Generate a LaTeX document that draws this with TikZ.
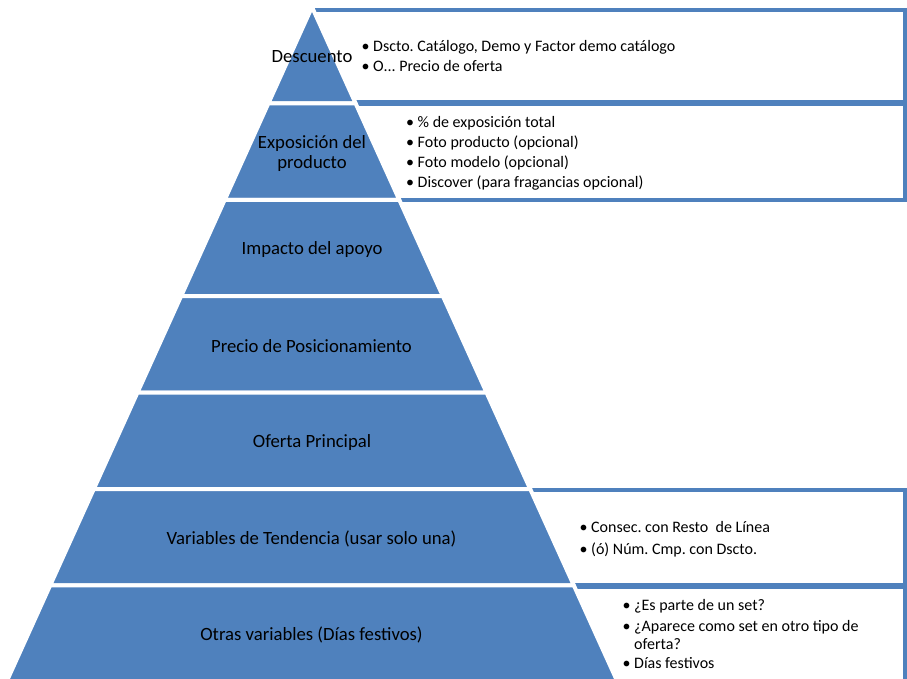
\documentclass[tikz,border=0pt]{standalone}
\usepackage{fontspec}
\setmainfont{Carlito}
\definecolor{pyrblue}{HTML}{4F81BD}
\tikzset{
  layer/.style={fill=pyrblue, draw=white, line width=4pt, line join=round},
  listbox/.style={fill=white, draw=pyrblue, line width=4pt},
  lbl/.style={inner sep=0pt, font=\fontsize{18.7}{20.5}\selectfont, align=center, text=black},
  item/.style={inner sep=0pt, anchor=mid west, font=\fontsize{16}{19.5}\selectfont, text=black},
}
\newcommand{\bul}{\makebox[11.5pt][l]{•}}
\newcommand{\nobul}{\makebox[11.5pt][l]{}}
\begin{document}
\frenchspacing
\begin{tikzpicture}[x=1pt,y=-1pt]
\useasboundingbox (0,0) rectangle (907,679);
\clip (0,0) rectangle (907,679);
% list boxes (behind the pyramid)
\path[listbox] (311,10) rectangle (904.5,102.5);
\path[listbox] (311,104.5) rectangle (904.5,200);
\path[listbox] (450,489.5) rectangle (904.5,584.5);
\path[listbox] (450,586.5) rectangle (904.5,720);
% pyramid layers
\foreach \i in {0,...,6}{
  \pgfmathsetmacro\ya{7+96.4*\i}
  \pgfmathsetmacro\yb{7+96.4*(\i+1)}
  \pgfmathsetmacro\wa{0.4527*96.4*\i}
  \pgfmathsetmacro\wb{0.4527*96.4*(\i+1)}
  \path[layer] (312-\wa,\ya) -- (312+\wa,\ya) -- (312+\wb,\yb) -- (312-\wb,\yb) -- cycle;
}
% layer labels
\node[lbl] (l1) at (312,56.5) {Descuento};
\node[lbl] (l2) at (312,153.5) {Exposición del\\producto};
\node[lbl] (l3) at (312,249.5) {Impacto del apoyo};
\node[lbl] (l4) at (311.5,346) {Precio de Posicionamiento};
\node[lbl] (l5) at (312,443) {Oferta Principal};
\node[lbl] (l6) at (311.5,539) {Variables de Tendencia (usar solo una)};
\node[lbl] (l7) at (311.5,634.5) {Otras variables (Días festivos)};
% box 1
\node[item] (a1) at (361.5,49) {\bul Dscto. Catálogo, Demo y Factor demo catálogo};
\node[item] (a2) at (361.5,69) {\bul O... Precio de oferta};
% box 2
\node[item] (b1) at (406,125) {\bul \% de exposición total};
\node[item] (b2) at (406,145) {\bul Foto producto (opcional)};
\node[item] (b3) at (406,165) {\bul Foto modelo (opcional)};
\node[item] (b4) at (406,185) {\bul Discover (para fragancias opcional)};
% box 3
\node[item] (c1) at (579.5,530) {\bul Consec. con Resto\ \ de Línea};
\node[item] (c2) at (579.5,552) {\bul (ó) Núm. Cmp. con Dscto.};
% box 4
\node[item] (d1) at (622.5,608) {\bul ¿Es parte de un set?};
\node[item] (d2) at (622.5,629.5) {\bul ¿Aparece como set en otro tipo de};
\node[item] (d3) at (622.5,647) {\nobul oferta?};
\node[item] (d4) at (622.5,666.5) {\bul Días festivos};
\end{tikzpicture}
\end{document}
